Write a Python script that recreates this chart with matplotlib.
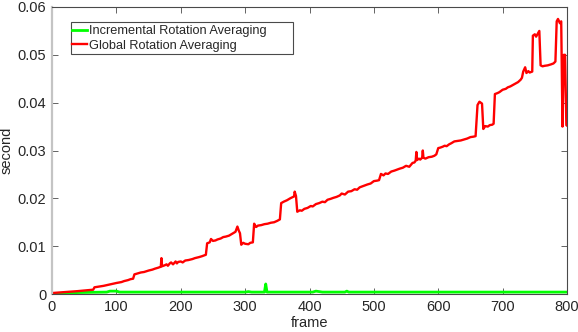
import matplotlib
matplotlib.use("Agg")
import matplotlib.pyplot as plt
from matplotlib.patches import Rectangle

# ---- data ----
red_frames = [0, 20, 40, 64, 66, 80, 90, 100, 108, 112, 118, 122, 126, 128, 133, 138, 143, 150,
              156, 160, 165, 169, 170, 171, 175, 178, 180, 183, 185, 188, 192, 194, 196, 200, 203,
              207, 212, 218, 222, 228, 233, 239, 241, 245, 247, 250, 254, 257, 262, 266, 270, 275,
              280, 285, 288, 290, 292, 294, 297, 300, 305, 308, 312, 314, 317, 320, 325, 330, 335,
              340, 345, 350, 354, 356, 360, 365, 370, 376, 377, 379, 381, 385, 388, 392, 397, 402,
              405, 410, 415, 420, 424, 428, 433, 437, 442, 447, 450, 455, 460, 465, 470, 474, 478,
              484, 490, 495, 500, 505, 508, 511, 515, 518, 522, 527, 532, 536, 540, 545, 550, 555,
              560, 563, 565, 566, 567, 570, 572, 575, 576, 577, 580, 585, 590, 594, 597, 600, 603,
              607, 610, 613, 617, 620, 625, 630, 635, 640, 645, 650, 655, 658, 661, 664, 668, 670,
              673, 677, 680, 684, 686, 688, 692, 695, 700, 705, 708, 712, 716, 720, 724, 728, 730,
              732, 735, 737, 740, 742, 746, 747, 750, 752, 755, 757, 759, 762, 765, 770, 775, 779,
              782, 784, 786, 789, 791, 793, 795, 797, 799, 800]
red_values = [0.0002, 0.0004, 0.0006, 0.0009, 0.0014, 0.0017, 0.0020, 0.0023, 0.0025, 0.0027,
              0.0029, 0.0031, 0.0032, 0.0041, 0.0043, 0.0045, 0.0046, 0.0049, 0.0051, 0.0053,
              0.0055, 0.0057, 0.0075, 0.0058, 0.0060, 0.0062, 0.0059, 0.0064, 0.0066, 0.0062,
              0.0068, 0.0064, 0.0067, 0.0068, 0.0066, 0.0070, 0.0071, 0.0073, 0.0075, 0.0077,
              0.0079, 0.0082, 0.0106, 0.0108, 0.0115, 0.0111, 0.0112, 0.0114, 0.0116, 0.0119,
              0.0120, 0.0122, 0.0126, 0.0130, 0.0141, 0.0133, 0.0127, 0.0103, 0.0107, 0.0105,
              0.0104, 0.0107, 0.0108, 0.0147, 0.0140, 0.0143, 0.0144, 0.0146, 0.0147, 0.0149,
              0.0150, 0.0153, 0.0156, 0.0190, 0.0193, 0.0196, 0.0200, 0.0204, 0.0214, 0.0205,
              0.0172, 0.0175, 0.0174, 0.0178, 0.0180, 0.0184, 0.0183, 0.0188, 0.0190, 0.0193,
              0.0192, 0.0197, 0.0199, 0.0201, 0.0203, 0.0206, 0.0210, 0.0208, 0.0214, 0.0215,
              0.0219, 0.0218, 0.0223, 0.0226, 0.0229, 0.0231, 0.0236, 0.0237, 0.0238, 0.0251,
              0.0248, 0.0252, 0.0251, 0.0256, 0.0258, 0.0260, 0.0262, 0.0264, 0.0268, 0.0266,
              0.0274, 0.0275, 0.0279, 0.0297, 0.0280, 0.0283, 0.0281, 0.0285, 0.0300, 0.0285,
              0.0283, 0.0286, 0.0287, 0.0289, 0.0292, 0.0305, 0.0306, 0.0308, 0.0310, 0.0309,
              0.0313, 0.0315, 0.0319, 0.0320, 0.0321, 0.0323, 0.0325, 0.0328, 0.0329, 0.0330,
              0.0395, 0.0402, 0.0398, 0.0345, 0.0351, 0.0350, 0.0353, 0.0354, 0.0356, 0.0418,
              0.0420, 0.0422, 0.0427, 0.0429, 0.0432, 0.0434, 0.0437, 0.0440, 0.0443, 0.0448,
              0.0452, 0.0465, 0.0474, 0.0462, 0.0466, 0.0463, 0.0465, 0.0540, 0.0543, 0.0538,
              0.0545, 0.0550, 0.0478, 0.0476, 0.0477, 0.0478, 0.0480, 0.0482, 0.0486, 0.0570,
              0.0575, 0.0566, 0.0570, 0.0350, 0.0500, 0.0500, 0.0353, 0.0352]

green_frames = [0, 20, 40, 85, 90, 100, 105, 200, 300, 305, 310, 330, 332, 334, 405, 410, 415, 420,
                455, 458, 461, 800]
green_values = [0.0, 0.0002, 0.0003, 0.0004, 0.0006, 0.0006, 0.0004, 0.0004, 0.0004, 0.0005, 0.0004,
                0.0004, 0.0021, 0.0004, 0.0004, 0.0006, 0.0005, 0.0004, 0.0004, 0.0006, 0.0004, 0.0004]

x_ticks = [0, 100, 200, 300, 400, 500, 600, 700, 800]
y_ticks = [0, 0.01, 0.02, 0.03, 0.04, 0.05, 0.06]
y_tick_labels = ["0", "0.01", "0.02", "0.03", "0.04", "0.05", "0.06"]
series_labels = ["Incremental Rotation Averaging", "Global Rotation Averaging"]

n = min(len(red_frames), len(red_values))
red_frames, red_values = red_frames[:n], red_values[:n]

plt.rcParams['font.family'] = ['Liberation Sans', 'DejaVu Sans']

fig = plt.figure(figsize=(5.78, 3.32), dpi=100)
ax = fig.add_axes([52 / 578, 38 / 332, 515 / 578, 287 / 332])

ax.plot(green_frames, green_values, color='#00ff00', lw=2.0, label=series_labels[0])
ax.plot(red_frames, red_values, color='#ff0000', lw=1.7, label=series_labels[1])

ax.set_xlim(0, 800)
ax.set_ylim(0, 0.06)
ax.set_xticks(x_ticks)
ax.set_yticks(y_ticks)
ax.set_yticklabels(y_tick_labels)

dark = '#4a4a4a'
for side in ['top', 'right', 'bottom']:
    ax.spines[side].set_color(dark)
    ax.spines[side].set_linewidth(0.8)
ax.spines['left'].set_color('#c4c4c4')
ax.spines['left'].set_linewidth(1.6)

ax.tick_params(direction='in', length=4, width=0.6, color=dark, labelsize=10.5,
               labelcolor='#262626', top=True, right=True, pad=4)

ax.set_xlabel('frame', fontsize=10.5, color='#262626', labelpad=2)
ax.set_ylabel('second', fontsize=10.5, color='#262626', labelpad=3)

leg = fig.legend(loc='upper left', bbox_to_anchor=(72 / 578, 1 - 25 / 332), frameon=False,
                 fontsize=9.2, handlelength=1.2, handletextpad=0.15, borderpad=0.0,
                 borderaxespad=0.0, labelspacing=0.2)
for t in leg.get_texts():
    t.set_color('#262626')
fig.patches.append(Rectangle((71 / 578, 1 - 54 / 332), 222 / 578, 32 / 332,
                             transform=fig.transFigure, fill=True, facecolor='white',
                             edgecolor='#4a4a4a', linewidth=0.8, zorder=0.5))
leg.set_zorder(5)

fig.savefig('out.png', dpi=100)
